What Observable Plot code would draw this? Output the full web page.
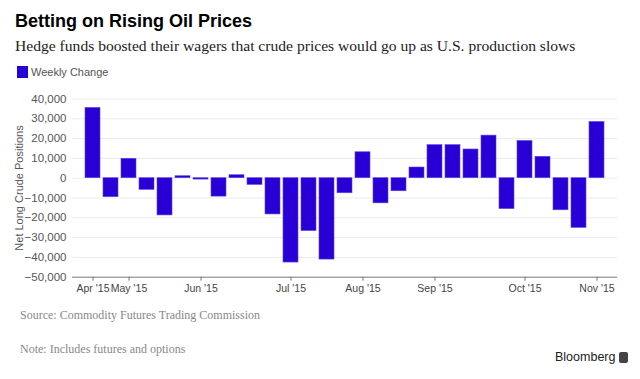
<!DOCTYPE html>
<html>
<head>
<meta charset="utf-8">
<script src="https://cdn.jsdelivr.net/npm/d3@7"></script>
<script src="https://cdn.jsdelivr.net/npm/@observablehq/plot@0.6"></script>
<style>
  html, body { margin: 0; padding: 0; background: #fff; }
  body { width: 640px; height: 379px; position: relative; overflow: hidden;
         font-family: "Liberation Sans", Arial, sans-serif; }
  .abs { position: absolute; white-space: nowrap; line-height: 1; }
  #title { left: 15px; top: 12px; font-weight: bold; font-size: 18px; color: #000; }
  #subtitle { left: 15px; top: 38px; font-family: "Liberation Serif", serif; font-size: 15.6px; color: #222; }
  #legend { left: 17px; top: 66px; font-size: 11px; color: #555; display: flex; align-items: center; }
  #legend .sw { width: 11px; height: 12px; background: #2800d6; margin-right: 3px; }
  #ylabel { left: 19px; top: 188px; font-size: 11px; color: #555; transform: translate(-50%, -50%) rotate(-90deg); }
  #chart { left: 0; top: 88px; }
  #source { left: 20px; top: 309px; font-family: "Liberation Serif", serif; font-size: 12px; color: #888; }
  #note { left: 20px; top: 343px; font-family: "Liberation Serif", serif; font-size: 12px; color: #888; }
  #brand { left: 555px; top: 351px; font-size: 12.5px; color: #222; display: flex; align-items: center; }
  #brand .logo { width: 9px; height: 11px; background: #444; border-radius: 2px; margin-left: 4px; }
</style>
</head>
<body>
<div id="title" class="abs">Betting on Rising Oil Prices</div>
<div id="subtitle" class="abs">Hedge funds boosted their wagers that crude prices would go up as U.S. production slows</div>
<div id="legend" class="abs"><span class="sw"></span><span id="legendText"></span></div>
<div id="ylabel" class="abs">Net Long Crude Positions</div>
<div id="chart" class="abs"></div>
<div id="source" class="abs">Source: Commodity Futures Trading Commission</div>
<div id="note" class="abs">Note: Includes futures and options</div>
<div id="brand" class="abs"><span>Bloomberg</span><span class="logo"></span></div>
<script>
const seriesName = "Weekly Change";
const dates = [
  "2015-04-21","2015-04-28","2015-05-05","2015-05-12","2015-05-19","2015-05-26",
  "2015-06-02","2015-06-09","2015-06-16","2015-06-23","2015-06-30",
  "2015-07-07","2015-07-14","2015-07-21","2015-07-28",
  "2015-08-04","2015-08-11","2015-08-18","2015-08-25",
  "2015-09-01","2015-09-08","2015-09-15","2015-09-22","2015-09-29",
  "2015-10-06","2015-10-13","2015-10-20","2015-10-27",
  "2015-11-03"
];
const values = [
  35500, -9600, 9800, -5900, -18800, 1000,
  -700, -9300, 1500, -3400, -18300,
  -42600, -26700, -41100, -7600,
  13100, -12700, -6600, 5400,
  16700, 16700, 14500, 21500, -15600,
  18800, 10800, -16200, -25100,
  28400
];
const tickDates = ["2015-04-21","2015-05-05","2015-06-02","2015-07-07","2015-08-04","2015-09-01","2015-10-06","2015-11-03"];
const tickLabels = ["Apr '15","May '15","Jun '15","Jul '15","Aug '15","Sep '15","Oct '15","Nov '15"];
const yTicks = [-50000, -40000, -30000, -20000, -10000, 0, 10000, 20000, 30000, 40000];

document.getElementById("legendText").textContent = seriesName;

const data = dates.map((d, i) => ({date: d, value: values[i]}));

const chart = Plot.plot({
  width: 640,
  height: 215,
  marginLeft: 72,
  marginRight: 23,
  marginTop: 10.5,
  marginBottom: 26.3,
  style: {fontFamily: "'Liberation Sans', Arial, sans-serif", fontSize: "11px", background: "transparent", overflow: "visible"},
  x: {type: "band", domain: dates, padding: 0.18, axis: null},
  y: {domain: [-50000, 40000], axis: null},
  marks: [
    Plot.gridY(yTicks.filter(t => t > -50000), {stroke: "#ebebeb", strokeOpacity: 1}),
    Plot.barY(data, {x: "date", y: "value", fill: "#2800d6", stroke: "#5d45e6", strokeWidth: 0.6}),
    Plot.ruleY([-50000], {stroke: "#777"}),
    Plot.axisX(tickDates, {tickSize: 4, stroke: "#777", fill: "#444", tickPadding: 3, fontSize: 10.5,
      tickFormat: d => tickLabels[tickDates.indexOf(d)], label: null}),
    Plot.axisY(yTicks, {tickSize: 0, tickPadding: 6, fill: "#555", fontSize: 11.5,
      tickFormat: d3.format(","), label: null})
  ]
});
document.getElementById("chart").appendChild(chart);
</script>
</body>
</html>
